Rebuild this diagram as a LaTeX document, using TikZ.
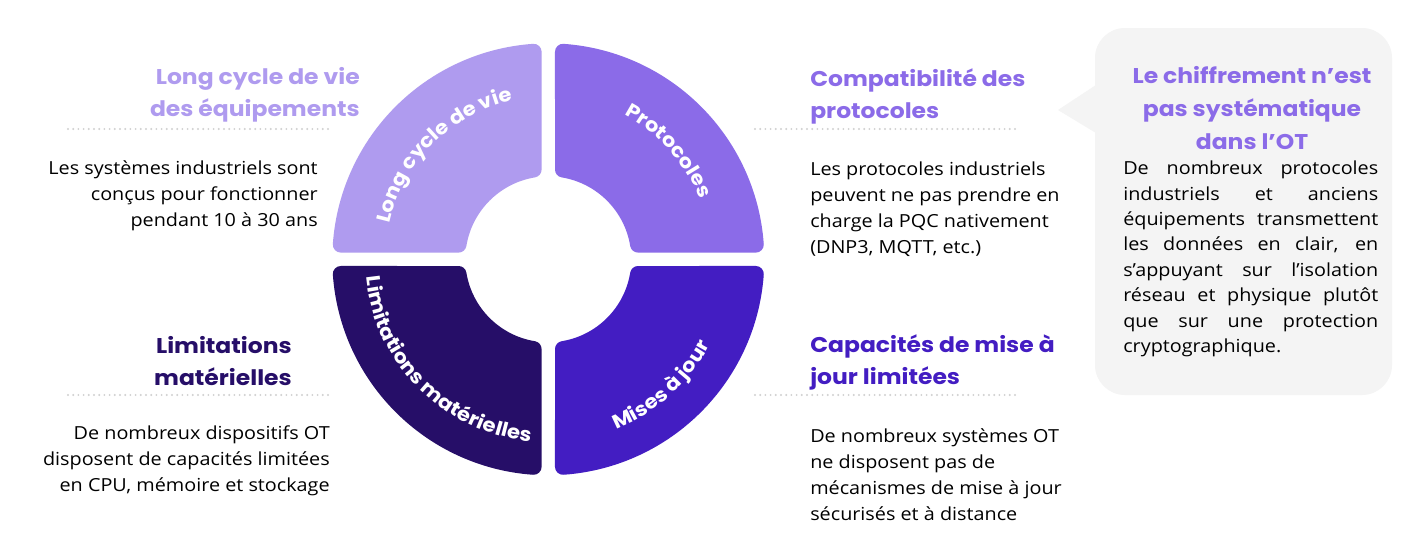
\documentclass[tikz,border=0pt]{standalone}
\usepackage{fontspec}
\setmainfont{Open Sans}[FakeStretch=1.1]
\newfontfamily\headfont{Poppins}[UprightFont=* Bold, FakeStretch=1.1]
\usetikzlibrary{decorations.text}

\definecolor{lavlight}{HTML}{AF9BEF}
\definecolor{lavmid}{HTML}{8B6BE8}
\definecolor{navydeep}{HTML}{260E68}
\definecolor{royalvio}{HTML}{431DC2}
\definecolor{calloutgray}{HTML}{F4F4F4}
\definecolor{dotgray}{HTML}{D0D0D0}

\newlength\encw
\setlength\encw{191.25pt}
\newcommand\jline[1]{{\spaceskip=0.3333em plus 1fil\relax\makebox[\encw][s]{#1}}\\}

\tikzset{
  head/.style={font=\headfont\fontsize{16}{24}\selectfont, inner sep=0pt},
  body/.style={font=\fontsize{13.5}{19.5}\selectfont, inner sep=0pt, text=black},
  dotline/.style={dotgray, line width=1.6pt, line cap=round, dash pattern=on 0pt off 3.9pt},
  ringtext/.style={decorate, decoration={text along path, text align=center,
      text={|\headfont\fontsize{14.5}{14.5}\selectfont\color{white}|#1}}}
}

\begin{document}
\begin{tikzpicture}[x=0.75pt, y=-0.75pt]
  \useasboundingbox (0,0) rectangle (1404,543);
  \fill[white] (0,0) rectangle (1404,543);

  % ring of four quadrants
  \begin{scope}[shift={(548.3,259.3)}]
    \foreach \a/\col in {0/royalvio, 90/navydeep, 180/lavlight, 270/lavmid}
      \filldraw[\col, line width=12pt, line join=round]
        (\a+9.3:91) arc[start angle=\a+9.3, end angle=\a+80.7, radius=91]
        -- (\a+85.95:208) arc[start angle=\a+85.95, end angle=\a+4.05, radius=208]
        -- cycle;
    \path[ringtext={Long cycle de vie}] (180:163) arc[start angle=180, end angle=270, radius=163];
    \path[ringtext={Protocoles}] (-87:163) arc[start angle=-87, end angle=3, radius=163];
    \path[ringtext={Limitations matérielles}] (180:183) arc[start angle=180, end angle=90, radius=183];
    \path[ringtext={Mises à jour}] (93:183) arc[start angle=93, end angle=3, radius=183];
  \end{scope}

  % left side
  \node[head, text=lavlight, align=right, anchor=east] (lifeT) at (360,95)
    {Long cycle de vie\\des équipements};
  \draw[dotline] (68,129) -- (330,129);
  \node[body, align=right, anchor=east] (lifeB) at (318,196)
    {Les systèmes industriels sont\\conçus pour fonctionner\\pendant 10 à 30 ans};

  \node[head, text=navydeep, align=right, anchor=east] (hwT) at (292,361)
    {Limitations\\matérielles};
  \draw[dotline] (68,395) -- (332,395);
  \node[body, align=right, anchor=east] (hwB) at (330,461)
    {De nombreux dispositifs OT\\disposent de capacités limitées\\en CPU, mémoire et stockage};

  % right side
  \node[head, text=lavmid, align=left, anchor=west] (protoT) at (810,96)
    {Compatibilité des\\protocoles};
  \draw[dotline] (755,129) -- (1017,129);
  \node[body, align=left, anchor=west] (protoB) at (810,209)
    {Les protocoles industriels\\peuvent ne pas prendre en\\charge la PQC nativement\\(DNP3, MQTT, etc.)};

  \node[head, text=royalvio, align=left, anchor=west] (updT) at (810,362)
    {Capacités de mise à\\jour limitées};
  \draw[dotline] (755,395) -- (1016,395);
  \node[body, align=left, anchor=west] (updB) at (810,475)
    {De nombreux systèmes OT\\ne disposent pas de\\mécanismes de mise à jour\\sécurisés et à distance};

  % callout
  \fill[calloutgray, rounded corners=22.5pt] (1095,28) rectangle (1392,395);
  \fill[calloutgray] (1058,110) -- (1096,85) -- (1096,133) -- cycle;
  \node[head, text=lavmid, align=center, font=\headfont\fontsize{16}{25}\selectfont] (encT) at (1252,108)
    {Le chiffrement n’est\\pas systématique\\dans l’OT};
  \node[body, text width=\encw, align=left, anchor=west,
        font=\fontsize{13.5}{19.1}\selectfont] (encB) at (1123,259)
    {\jline{De nombreux protocoles}
     \jline{industriels et anciens}
     \jline{équipements transmettent}
     \jline{les données en clair, en}
     \jline{s’appuyant sur l’isolation}
     \jline{réseau et physique plutôt}
     \jline{que sur une protection}
     cryptographique.};
\end{tikzpicture}
\end{document}
